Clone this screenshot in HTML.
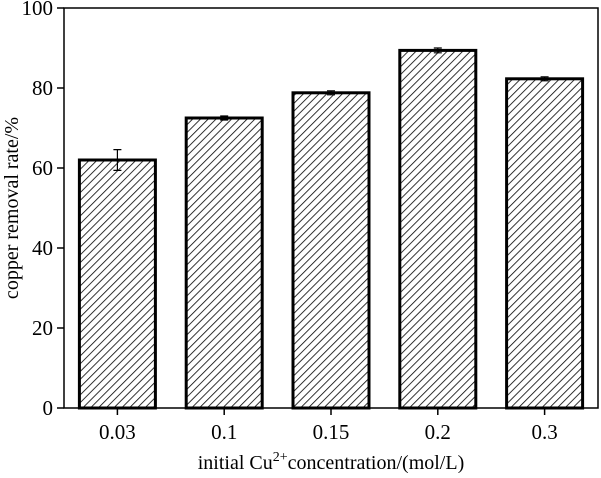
<!DOCTYPE html>
<html><head><meta charset="utf-8"><style>
body{margin:0;background:#fff;}
svg text{font-family:"Liberation Serif",serif;fill:#000;}
</style></head><body>
<svg width="601" height="473" xmlns="http://www.w3.org/2000/svg">
<defs>
<pattern id="hatch" patternUnits="userSpaceOnUse" width="5.5" height="5.5" patternTransform="rotate(45)">
<line x1="0" y1="0" x2="0" y2="5.5" stroke="#000" stroke-width="1.6"/>
</pattern>
</defs>
<g id="plot"></g>
<rect x="64" y="8" width="534" height="400" fill="none" stroke="#000" stroke-width="1.5"/>
<text x="18" y="208" font-size="20" text-anchor="middle" transform="rotate(-90 18 208)">copper removal rate/%</text>
<text x="331" y="469" font-size="20" text-anchor="middle">initial Cu<tspan dy="-8" font-size="14">2+</tspan><tspan dy="8">concentration/(mol/L)</tspan></text>
<script>
const categories=["0.03","0.1","0.15","0.2","0.3"];
const values=[62,72.5,78.8,89.4,82.3];
const errors=[2.6,0.5,0.5,0.6,0.5];
const yTicks=[0,20,40,60,80,100];
const NS="http://www.w3.org/2000/svg";
const g=document.getElementById("plot");
const x0=64,x1=598,y0=408,y1=8;
const band=(x1-x0)/categories.length;
const xc=i=>x0+band*(i+0.5);
const y=v=>y0-(v/100)*(y0-y1);
function mk(t,a){const e=document.createElementNS(NS,t);for(const k in a)e.setAttribute(k,a[k]);g.appendChild(e);return e;}
yTicks.forEach(t=>{
 const l=mk("line",{x1:57,x2:x0,y1:y(t),y2:y(t),stroke:"#000","stroke-width":1.5});
 
 
 const tx=mk("text",{x:53,y:y(t)+7,"font-size":21,"text-anchor":"end"});
 tx.textContent=t;
 
 
});
categories.forEach((c,i)=>{
 const bw=76;
 const r=mk("rect",{x:xc(i)-bw/2,y:y(values[i]),width:bw,height:y0-y(values[i]),fill:"url(#hatch)",stroke:"#000","stroke-width":3});
 
 
 const e=mk("path",{d:`M${xc(i)-4},${y(values[i]+errors[i])}H${xc(i)+4}M${xc(i)},${y(values[i]+errors[i])}V${y(values[i]-errors[i])}M${xc(i)-4},${y(values[i]-errors[i])}H${xc(i)+4}`,stroke:"#000","stroke-width":1.2,fill:"none"});
 
 
 const tk=mk("line",{x1:xc(i),x2:xc(i),y1:y0,y2:y0+7,stroke:"#000","stroke-width":1.5});
 
 
 const tx=mk("text",{x:xc(i),y:439,"font-size":21,"text-anchor":"middle"});
 tx.textContent=c;
 
 
});
</script>
</svg>
</body></html>
